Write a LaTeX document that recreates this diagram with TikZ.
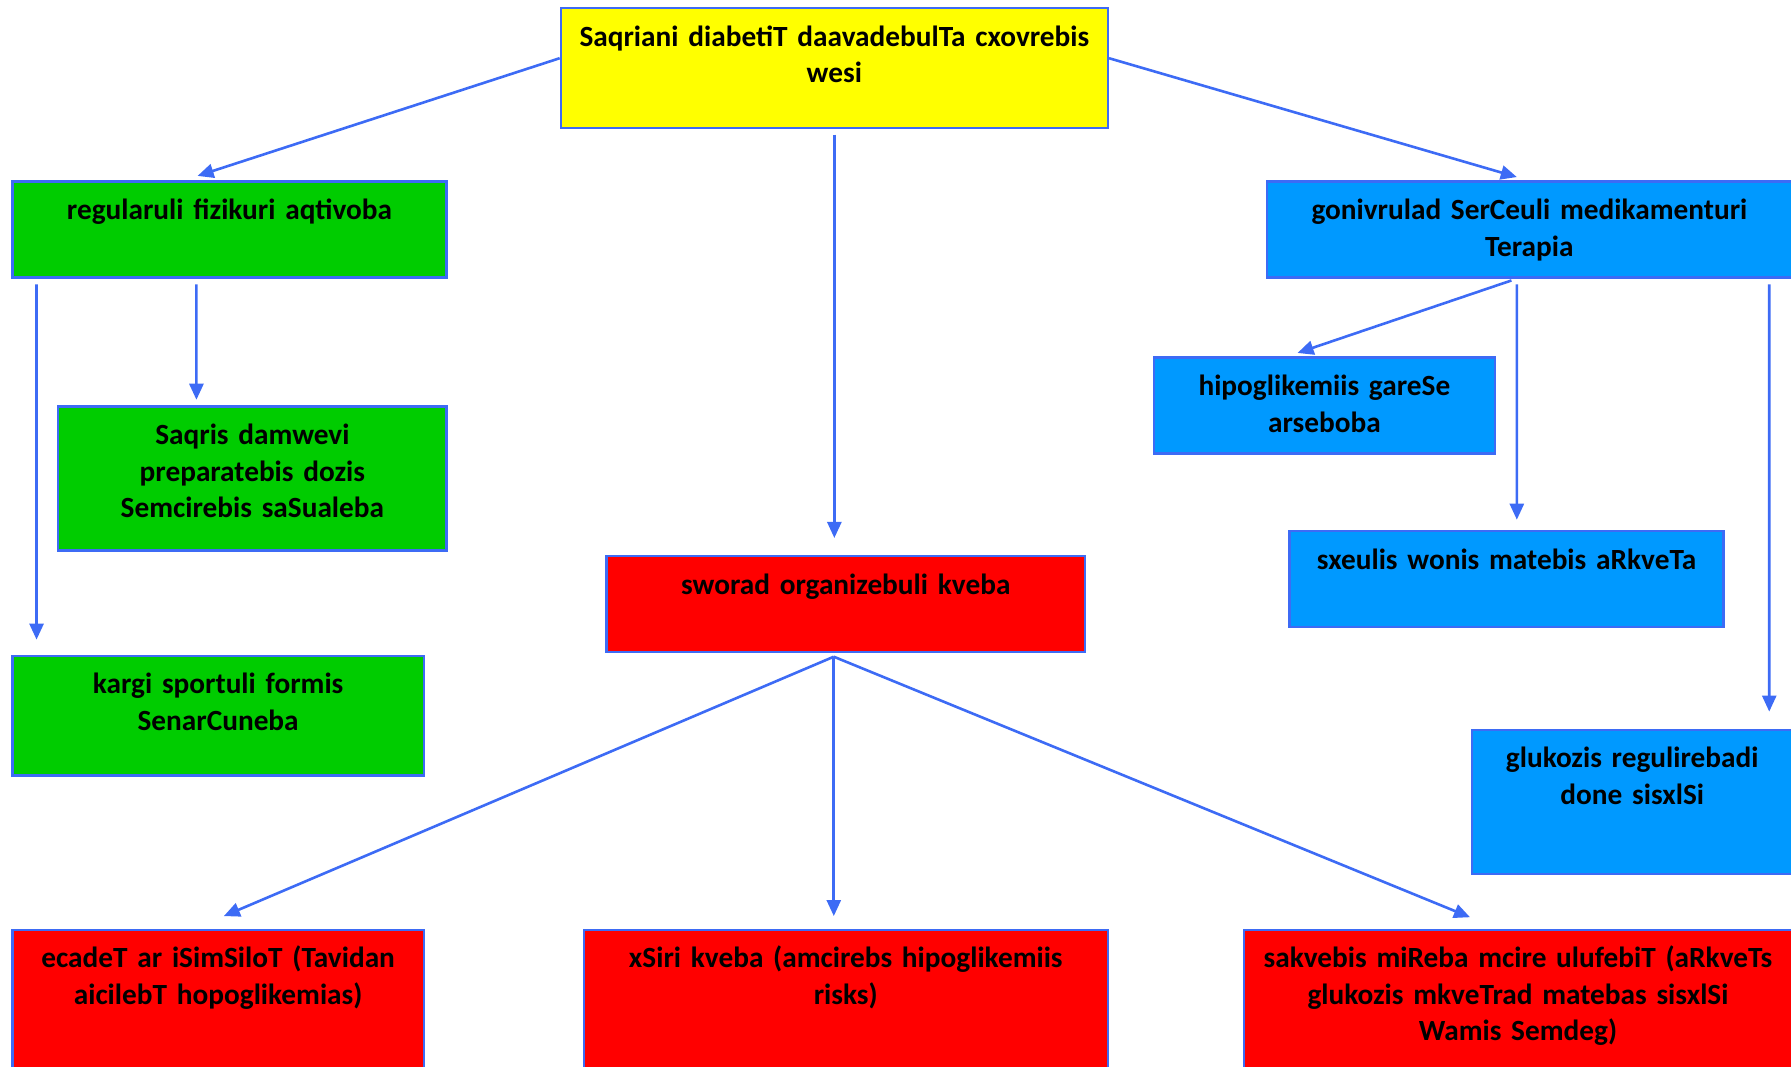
\documentclass[tikz,border=0pt]{standalone}
\usepackage{fontspec}
\setmainfont{Carlito}
\usetikzlibrary{arrows.meta}
\definecolor{edgeblue}{HTML}{3D6BF5}
\definecolor{boxyellow}{HTML}{FFFF00}
\definecolor{boxgreen}{HTML}{00CC00}
\definecolor{boxblue}{HTML}{0099FF}
\definecolor{boxred}{HTML}{FF0000}
\tikzset{
  cell/.style 2 args={draw=edgeblue,line width=1.1pt,anchor=north west,inner xsep=4pt,inner ysep=8pt,
    align=center,font=\bfseries\fontsize{14.6}{18.2}\selectfont,
    minimum width=#1*0.02cm,text width=#1*0.02cm-9pt,text height=11pt,text depth=#2*0.02cm-27pt},
  link/.style={draw=edgeblue,line width=1.3pt,-{Triangle[length=8pt,width=7pt]}}
}
\begin{document}
\begin{tikzpicture}[x=0.02cm,y=-0.02cm]
  \path[use as bounding box,clip] (0,0) rectangle (1568,934);
  % boxes
  \node[cell={479}{105},fill=boxyellow] (top) at (490,6) {Saqriani diabetiT daavadebulTa cxovrebis\\wesi};
  \node[cell={380}{84},fill=boxgreen] (g1) at (10,158) {regularuli fizikuri aqtivoba};
  \node[cell={340}{126},fill=boxgreen] (g2) at (50,355) {Saqris damwevi\\preparatebis dozis\\Semcirebis saSualeba};
  \node[cell={360}{105},fill=boxgreen] (g3) at (10,573) {kargi sportuli formis\\SenarCuneba};
  \node[cell={419}{84},fill=boxred] (rc) at (530,486) {sworad organizebuli kveba};
  \node[cell={460}{84},fill=boxblue] (b1) at (1108,158) {gonivrulad SerCeuli medikamenturi\\Terapia};
  \node[cell={299}{84},fill=boxblue] (b2) at (1009,312) {hipoglikemiis gareSe\\arseboba};
  \node[cell={380}{84},fill=boxblue] (b3) at (1128,464) {sxeulis wonis matebis aRkveTa};
  \node[cell={280}{126},fill=boxblue] (b4) at (1288,638) {glukozis regulirebadi\\done sisxlSi};
  \node[cell={360}{150},fill=boxred] (r1) at (10,813) {ecadeT ar iSimSiloT (Tavidan\\aicilebT hopoglikemias)};
  \node[cell={459}{150},fill=boxred] (r2) at (510,813) {xSiri kveba (amcirebs hipoglikemiis\\risks)};
  \node[cell={480}{150},fill=boxred] (r3) at (1088,813) {sakvebis miReba mcire ulufebiT (aRkveTs\\glukozis mkveTrad matebas sisxlSi\\Wamis Semdeg)};
  % arrows
  \draw[link] ([yshift=0.17cm]top.west) -- ([shift={(-0.56cm,0.08cm)}]g1.north);
  \draw[link] ([yshift=0.17cm]top.east) -- ([shift={(-0.22cm,0.06cm)}]b1.north);
  \draw[link,shorten <=0.1cm,shorten >=0.3cm] (top.south) -- (top.south |- rc.north);
  \draw[link,shorten <=0.1cm,shorten >=0.26cm] ([xshift=-3.38cm]g1.south) -- ([xshift=-3.18cm]g3.north);
  \draw[link,shorten <=0.1cm,shorten >=0.1cm] ([xshift=-0.58cm]g1.south) -- ([xshift=-0.98cm]g2.north);
  \draw[link,shorten <=0.1cm] ([xshift=-0.22cm]b1.south) -- ([shift={(-0.47cm,0.06cm)}]b2.north);
  \draw[link,shorten <=0.1cm,shorten >=0.18cm] ([xshift=-0.22cm]b1.south) -- ([xshift=0.18cm]b3.north);
  \draw[link,shorten <=0.1cm,shorten >=0.3cm] ([xshift=4.2cm]b1.south) -- ([xshift=2.4cm]b4.north);
  \foreach \n/\dx/\dy in {r1/0.1/0.22,r2/-0.21/0.22,r3/-0.84/0.2}
    \draw[link] ([shift={(-0.21cm,-0.06cm)}]rc.south) -- ([shift={(\dx cm,\dy cm)}]\n.north);
\end{tikzpicture}
\end{document}
